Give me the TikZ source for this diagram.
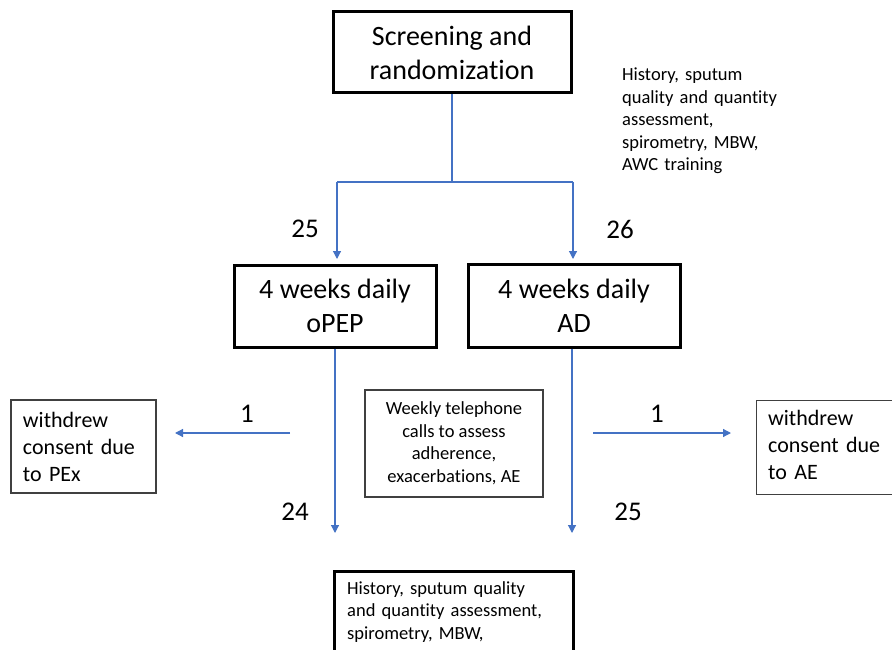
\documentclass[tikz,border=0pt]{standalone}
\usepackage{fontspec}
\setmainfont{Carlito}[Ligatures=NoCommon]
\usetikzlibrary{arrows.meta}
\definecolor{flowblue}{HTML}{4472C4}
\definecolor{boxgray}{HTML}{404040}
\tikzset{
  thickbox/.style={draw=black, line width=3pt, inner sep=0pt, align=center,
    font=\fontsize{28}{34}\selectfont},
  thinbox/.style={draw=boxgray, line width=1.2pt, inner sep=0pt},
  flow/.style={draw=flowblue, line width=1.2pt, -{Triangle[width=8pt,length=8pt]}},
  flowline/.style={draw=flowblue, line width=1.2pt},
  count/.style={font=\fontsize{27}{32}\selectfont, inner sep=0pt},
  smalltext/.style={font=\fontsize{18.5}{22.5}\selectfont, inner sep=0pt},
  withdrawtext/.style={font=\fontsize{22}{27}\selectfont, inner sep=0pt}
}
\begin{document}
\begin{tikzpicture}[x=1pt, y=-1pt]
\useasboundingbox (0,0) rectangle (892,650);
\clip (0,0) rectangle (892,650);

% boxes
\node[thickbox, minimum width=238pt, minimum height=81pt] (screen) at (452,52.5)
  {Screening and\\randomization};
\node[thickbox, minimum width=202pt, minimum height=82pt] (opep) at (335,306)
  {4 weeks daily\\oPEP};
\node[thickbox, minimum width=212pt, minimum height=83pt] (ad) at (574,305.5)
  {4 weeks daily\\AD};

\node[smalltext, anchor=base west, text width=170pt, align=left] (baseline) at (622,81)
  {History, sputum\\quality and quantity\\assessment,\\spirometry, MBW,\\AWC training};

\node[thinbox, smalltext, minimum width=178pt, minimum height=107pt, align=center] (weekly) at (454,443.5)
  {Weekly telephone\\calls to assess\\adherence,\\exacerbations, AE};

\node[thinbox, withdrawtext, minimum width=145pt, minimum height=93pt, text width=121pt,
  inner xsep=12pt, align=left] (wleft) at (83.5,446.5)
  {withdrew\\consent due\\to PEx};
\node[thinbox, anchor=north west, minimum width=160pt, minimum height=94pt] (wright) at (756,400) {};
\node[withdrawtext, anchor=base west, text width=130pt, align=left] (wrighttext) at (768,425)
  {withdrew\\consent due\\to AE};

\node[draw=black, line width=3pt, anchor=north west, minimum width=239pt, minimum height=140pt,
  inner sep=0pt] (final) at (333,570) {};
\node[smalltext, anchor=base west, text width=220pt, align=left] (finaltext) at (347,594)
  {History, sputum quality\\and quantity assessment,\\spirometry, MBW,};

% counts
\node[count] (n25a) at (305,229) {25};
\node[count] (n26) at (620,229) {26};
\node[count] (n1a) at (247,414) {1};
\node[count] (n1b) at (657,414) {1};
\node[count] (n24) at (295,512) {24};
\node[count] (n25b) at (628,512) {25};

% connectors
\coordinate (split) at (452,182);
\coordinate (splitL) at (337,182);
\coordinate (splitR) at (573,182);
\coordinate (tipL) at (337,259);
\coordinate (tipR) at (573,259);
\draw[flowline] (screen.south) -- (split);
\draw[flowline] (splitL) -- (splitR);
\draw[flow] (splitL) -- (tipL);
\draw[flow] (splitR) -- (tipR);

\coordinate (downL) at (335,533);
\coordinate (downR) at (572,533);
\draw[flow] (opep.south -| downL) -- (downL);
\draw[flow] (ad.south -| downR) -- (downR);

\coordinate (outLs) at (290,433);
\coordinate (outLe) at (175,433);
\coordinate (outRs) at (593,433);
\coordinate (outRe) at (731,433);
\draw[flow] (outLs) -- (outLe);
\draw[flow] (outRs) -- (outRe);
\end{tikzpicture}
\end{document}
